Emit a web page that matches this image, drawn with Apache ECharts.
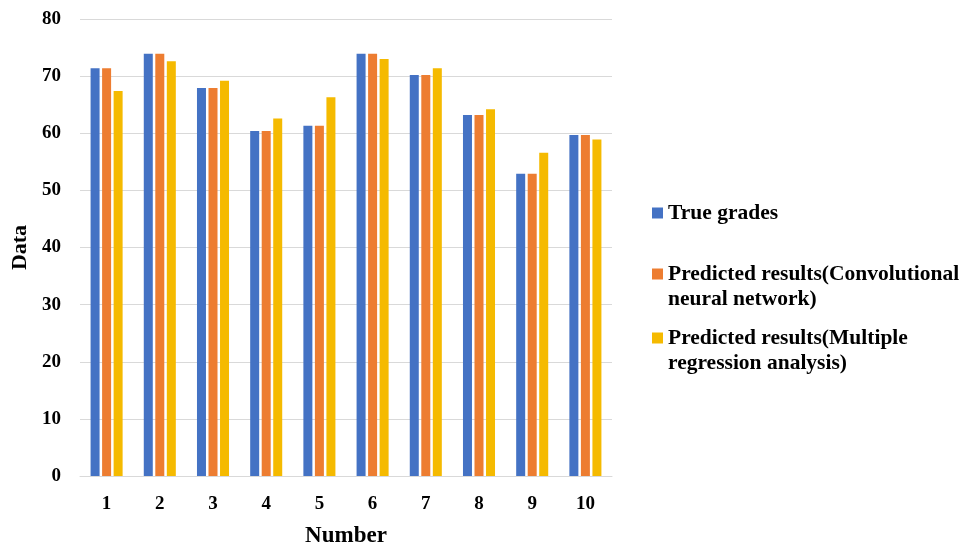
<!DOCTYPE html>
<html>
<head>
<meta charset="utf-8">
<script src="https://cdn.jsdelivr.net/npm/echarts@6/dist/echarts.min.js"></script>
<style>
  html, body { margin: 0; padding: 0; background: #fff; }
  #main { width: 967px; height: 549px; }
</style>
</head>
<body>
<div id="main"></div>
<script>
// data
var categories = ['1', '2', '3', '4', '5', '6', '7', '8', '9', '10'];
var trueGrades = [71.4, 73.9, 67.9, 60.4, 61.3, 73.9, 70.2, 63.2, 52.9, 59.7];
var cnnResults = [71.4, 73.9, 67.9, 60.4, 61.3, 73.9, 70.2, 63.2, 52.9, 59.7];
var mraResults = [67.4, 72.6, 69.2, 62.6, 66.3, 73.0, 71.4, 64.2, 56.6, 58.9];
var seriesNames = [
    'True grades',
    'Predicted results(Convolutional\nneural network)',
    'Predicted results(Multiple\nregression analysis)'
];

var font = '"Liberation Serif", "Times New Roman", serif';
var colors = ['#4472C4', '#ED7D31', '#F5BA00'];

var myChart = echarts.init(document.getElementById('main'));

// one legend per item so each can sit where it does in the picture;
// two-line names get an empty first line so the icon lines up with line one
function makeLegend(name, top, twoLines) {
    return {
        orient: 'vertical',
        left: 652,
        top: top,
        padding: 0,
        itemWidth: 11,
        itemHeight: 11,
        icon: 'rect',
        data: [name],
        formatter: function (n) { return twoLines ? ' \n' + n : n; },
        textStyle: {
            fontFamily: font,
            fontWeight: 'bold',
            fontSize: 21.5,
            color: '#000',
            lineHeight: 25
        }
    };
}

myChart.setOption({
    animation: false,
    color: colors,
    legend: [
        makeLegend(seriesNames[0], 200.5, false),
        makeLegend(seriesNames[1], 236.5, true),
        makeLegend(seriesNames[2], 300.5, true)
    ],
    grid: {
        left: 80,
        right: 355,
        top: 19,
        bottom: 73,
        containLabel: false,
        outerBoundsMode: 'none'
    },
    xAxis: {
        type: 'category',
        data: categories,
        name: 'Number',
        nameLocation: 'middle',
        nameGap: 49,
        nameTextStyle: { fontFamily: font, fontWeight: 'bold', fontSize: 23, color: '#000' },
        axisLine: { lineStyle: { color: '#d9d9d9' } },
        axisTick: { show: false },
        axisLabel: { fontFamily: font, fontWeight: 'bold', fontSize: 19, color: '#000', margin: 19 }
    },
    yAxis: {
        type: 'value',
        min: 0,
        max: 80,
        interval: 10,
        name: 'Data',
        nameLocation: 'middle',
        nameGap: 48,
        nameTextStyle: { fontFamily: font, fontWeight: 'bold', fontSize: 22, color: '#000' },
        axisLine: { show: false },
        axisTick: { show: false },
        axisLabel: { fontFamily: font, fontWeight: 'bold', fontSize: 19, color: '#000', margin: 19 },
        splitLine: { lineStyle: { color: '#d9d9d9' } }
    },
    series: [
        { name: seriesNames[0], type: 'bar', barWidth: 9, barGap: '28%', data: trueGrades },
        { name: seriesNames[1], type: 'bar', barWidth: 9, barGap: '28%', data: cnnResults },
        { name: seriesNames[2], type: 'bar', barWidth: 9, barGap: '28%', data: mraResults }
    ]
});
</script>
</body>
</html>
